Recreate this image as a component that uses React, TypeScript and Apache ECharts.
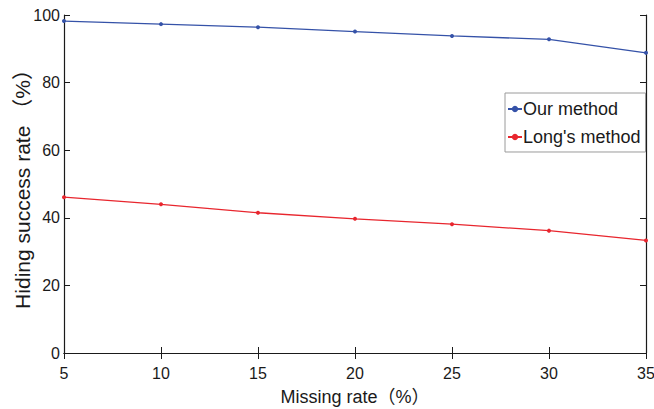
import React, { useEffect, useRef } from "react";
import * as echarts from "echarts";

const missingRates = [5, 10, 15, 20, 25, 30, 35];
const ourMethod = [98.2, 97.3, 96.4, 95.1, 93.8, 92.8, 88.8];
const longsMethod = [46.1, 44.0, 41.5, 39.7, 38.1, 36.2, 33.3];
const seriesNames = ["Our method", "Long's method"];

const FONT = "'Liberation Sans', Arial, 'Noto Sans CJK SC', sans-serif";

export default function App() {
  const ref = useRef<HTMLDivElement>(null);
  useEffect(() => {
    if (!ref.current) return;
    const chart = echarts.init(ref.current, null, { renderer: "svg" });
    const axisLine = { show: true, lineStyle: { color: "#1a1a1a", width: 1.2 } };
    const tick = { show: true, inside: true, length: 6, lineStyle: { color: "#1a1a1a" } };
    chart.setOption({
      animation: false,
      backgroundColor: "#ffffff",
      textStyle: { fontFamily: FONT },
      grid: { left: 64, right: 8, top: 15, bottom: 56, outerBoundsMode: "none", containLabel: false },
      legend: {
        orient: "vertical",
        left: 505,
        top: 93,
        padding: [7, 5, 6, 2],
        itemGap: 10,
        itemWidth: 14,
        itemHeight: 8,
        borderColor: "#9a9a9a",
        borderWidth: 1,
        backgroundColor: "#ffffff",
        textStyle: { fontSize: 18, color: "#1a1a1a", fontFamily: FONT, padding: [0, 0, 0, -4] },
        data: seriesNames,
      },
      xAxis: [
        {
          type: "value",
          min: 5,
          max: 35,
          interval: 5,
          position: "bottom",
          name: "Missing rate（%）",
          nameLocation: "middle",
          nameGap: 35,
          nameMoveOverlap: false,
          nameTextStyle: { fontSize: 18, color: "#1a1a1a", fontFamily: FONT },
          axisLine,
          axisTick: tick,
          axisLabel: { fontSize: 16, color: "#1a1a1a", margin: 12, fontFamily: FONT },
          splitLine: { show: false },
        },
        {
          type: "value",
          min: 5,
          max: 35,
          interval: 5,
          position: "top",
          axisLine,
          axisTick: tick,
          axisLabel: { show: false },
          splitLine: { show: false },
        },
      ],
      yAxis: [
        {
          type: "value",
          min: 0,
          max: 100,
          interval: 20,
          position: "left",
          name: "Hiding success rate （%）",
          nameLocation: "middle",
          nameGap: 31,
          nameMoveOverlap: false,
          nameTextStyle: { fontSize: 21, color: "#1a1a1a", fontFamily: FONT },
          axisLine,
          axisTick: tick,
          axisLabel: { fontSize: 16, color: "#1a1a1a", margin: 4, fontFamily: FONT },
          splitLine: { show: false },
        },
        {
          type: "value",
          min: 0,
          max: 100,
          interval: 20,
          position: "right",
          axisLine,
          axisTick: tick,
          axisLabel: { show: false },
          splitLine: { show: false },
        },
      ],
      series: [
        {
          name: seriesNames[0],
          type: "line",
          data: missingRates.map((x, i) => [x, ourMethod[i]]),
          symbol: "circle",
          symbolSize: 4,
          color: "#3552a8",
          lineStyle: { width: 1.3, color: "#3552a8" },
          itemStyle: { color: "#3552a8" },
        },
        {
          name: seriesNames[1],
          type: "line",
          data: missingRates.map((x, i) => [x, longsMethod[i]]),
          symbol: "circle",
          symbolSize: 4,
          color: "#e8262e",
          lineStyle: { width: 1.3, color: "#e8262e" },
          itemStyle: { color: "#e8262e" },
        },
      ],
    });
    return () => chart.dispose();
  }, []);
  return <div ref={ref} style={{ width: 654, height: 409, position: "absolute", left: 0, top: 0 }} />;
}
